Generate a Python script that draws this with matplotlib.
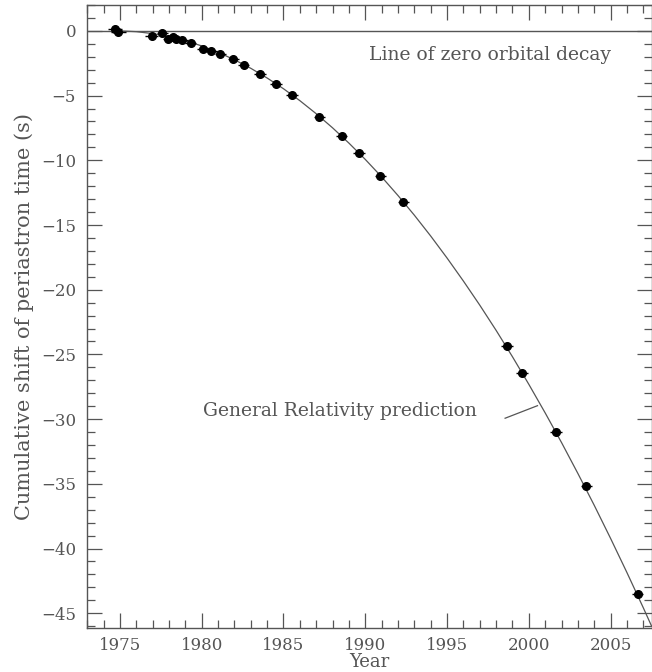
import matplotlib
matplotlib.use("Agg")
import matplotlib.pyplot as plt
from matplotlib.ticker import MultipleLocator

obs_year = [1974.70, 1974.90, 1976.94, 1977.59, 1977.96, 1978.23, 1978.43, 1978.82,
            1979.33, 1980.08, 1980.57, 1981.14, 1981.94, 1982.57, 1983.57, 1984.55,
            1985.53, 1987.20, 1988.56, 1989.62, 1990.93, 1992.33, 1998.66, 1999.59,
            2001.67, 2003.51, 2006.65]
obs_shift = [0.13, -0.05, -0.39, -0.15, -0.64, -0.49, -0.62, -0.70,
             -0.95, -1.37, -1.52, -1.78, -2.21, -2.63, -3.35, -4.10,
             -4.95, -6.62, -8.14, -9.45, -11.22, -13.20, -24.34, -26.40,
             -31.00, -35.20, -43.50]
obs_xerr = [0.45, 0.45, 0.4, 0.35, 0.35, 0.35, 0.35, 0.35,
            0.35, 0.35, 0.35, 0.35, 0.35, 0.35, 0.35, 0.35,
            0.35, 0.35, 0.35, 0.35, 0.35, 0.35, 0.35, 0.35,
            0.35, 0.35, 0.35]

# General Relativity prediction curve
gr_year = [1974.5, 1975, 1976, 1977, 1978, 1979, 1980, 1981, 1982, 1983, 1984,
           1985, 1986, 1987, 1988, 1989, 1990, 1991, 1992, 1993, 1994, 1995,
           1996, 1997, 1998, 1999, 2000, 2001, 2002, 2003, 2004, 2005, 2006,
           2007, 2007.5]
gr_shift = [0.00, 0.00, -0.06, -0.21, -0.44, -0.76, -1.16, -1.65, -2.23, -2.89, -3.64,
            -4.47, -5.39, -6.40, -7.49, -8.67, -9.93, -11.28, -12.72, -14.24, -15.85, -17.55,
            -19.33, -21.19, -23.14, -25.18, -27.31, -29.52, -31.81, -34.20, -36.66, -39.22, -41.86,
            -44.58, -45.98]

x_ticks = [1975, 1980, 1985, 1990, 1995, 2000, 2005]
y_ticks = [0, -5, -10, -15, -20, -25, -30, -35, -40, -45]

GRAY = "#555555"
plt.rcParams['font.family'] = ['DejaVu Serif']
plt.rcParams['font.size'] = 12

fig = plt.figure(figsize=(6.52, 6.72), dpi=100)
ax = fig.add_axes([87.2/652, 1 - 627.5/672, (651.5 - 87.2)/652, (627.5 - 5)/672])

ax.axhline(0, color=GRAY, lw=1.0)
ax.plot(gr_year, gr_shift, color=GRAY, lw=0.9)
ax.errorbar(obs_year, obs_shift, xerr=obs_xerr, fmt='o', color='black', ms=5.5,
            elinewidth=1.0, capsize=0, zorder=3)

ax.plot([1998.55, 2000.53], [-29.93, -28.96], color=GRAY, lw=0.9)
ax.text(1980.1, -29.4, "General Relativity prediction", color=GRAY, ha='left', va='center',
        fontsize=13.5)
ax.text(1997.6, -1.85, "Line of zero orbital decay", color=GRAY, ha='center', va='center',
        fontsize=13.5)

ax.set_xlim(1973, 2007.5)
ax.set_ylim(-46.1, 2)
ax.set_xticks(x_ticks)
ax.set_yticks(y_ticks)
ax.xaxis.set_minor_locator(MultipleLocator(1))
ax.yaxis.set_minor_locator(MultipleLocator(1))
ax.tick_params(which='both', direction='in', top=True, right=True, colors=GRAY,
               labelcolor=GRAY, width=0.9)
ax.tick_params(which='major', length=11)
ax.tick_params(which='minor', length=6)
ax.tick_params(axis='y', which='major', pad=8)
ax.tick_params(axis='x', which='major', pad=7)
for s in ax.spines.values():
    s.set_color(GRAY)
    s.set_linewidth(1.0)

ax.set_xlabel("Year", color=GRAY, labelpad=-1, fontsize=13)
ax.set_ylabel("Cumulative shift of periastron time (s)", color=GRAY, labelpad=5, fontsize=15)

fig.savefig("out.png", dpi=100)
